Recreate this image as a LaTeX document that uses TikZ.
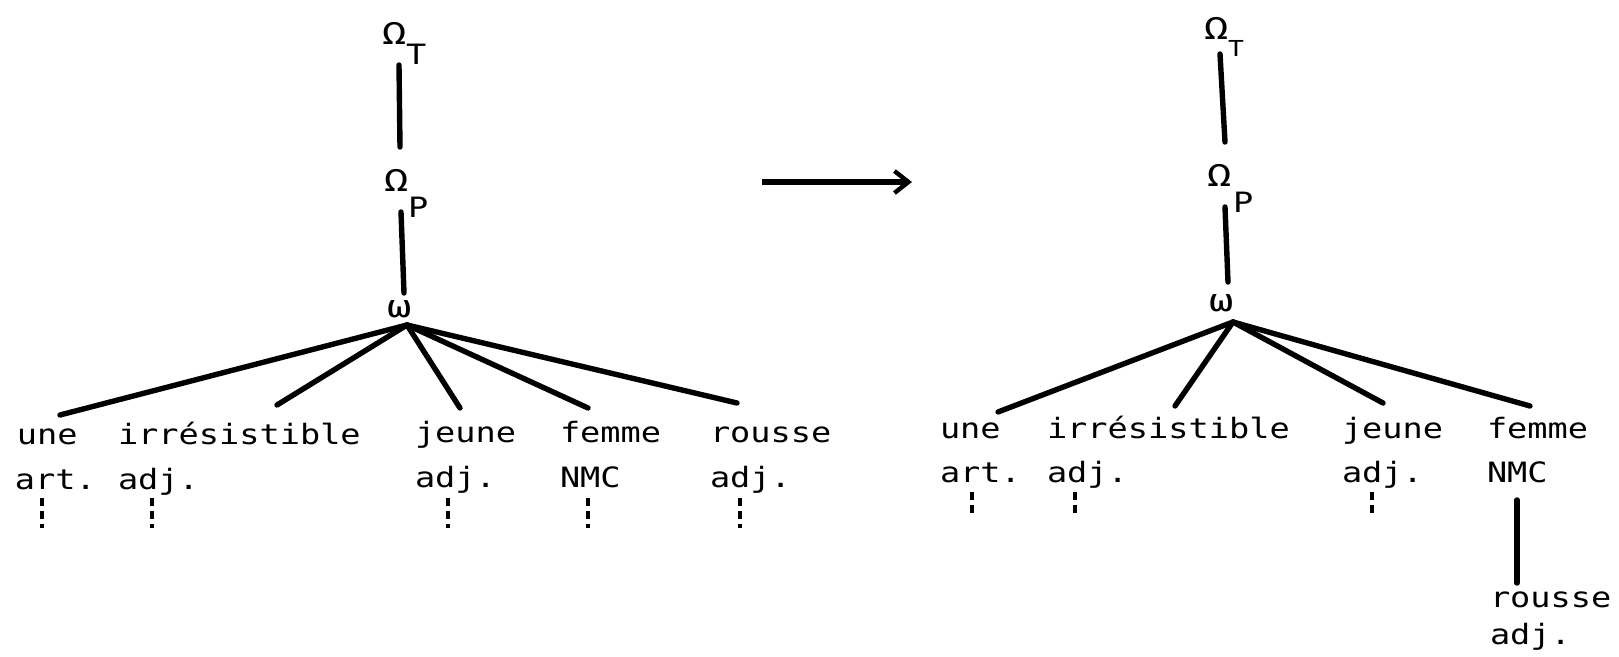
\documentclass[tikz,border=0pt]{standalone}
\usepackage{fontspec}
\newfontfamily\tw[FakeStretch=1.2]{DejaVu Sans Mono}
\newfontfamily\twg[FakeStretch=1.3]{DejaVu Sans Mono}
\usetikzlibrary{arrows.meta}
\begin{document}
\begin{tikzpicture}[x=0.5pt,y=-0.5pt,
  lbl/.style={anchor=base west, inner sep=0pt, outer sep=0pt, font=\tw\fontsize{14}{16}\selectfont},
  glbl/.style={lbl, font=\twg\fontsize{15.5}{17}\selectfont},
  sublbl/.style={lbl, font=\tw\fontsize{14}{16}\selectfont},
  smsub/.style={lbl, font=\tw\fontsize{11}{13}\selectfont},
  edge/.style={line width=2.7pt, line cap=round},
  stub/.style={line width=2pt, dash pattern=on 4pt off 2.5pt},
  arr/.style={line width=2.6pt, -{Straight Barb[length=7pt, width=11pt, line width=2.2pt]}}
]
\useasboundingbox (0,0) rectangle (1619,657);

% ---------- left tree ----------
\node[glbl] (LOT) at (382,45) {Ω};
\node[sublbl] (LOTs) at (406,65) {T};
\node[glbl] (LOP) at (384,192) {Ω};
\node[sublbl] (LOPs) at (408,218) {P};
\node[glbl] (Lom) at (387,318) {ω};

\coordinate (La1) at (399,65);
\coordinate (La2) at (400,147);
\coordinate (Lb1) at (401,212);
\coordinate (Lb2) at (404,293);
\coordinate (Lf) at (407,325);
\coordinate (Le1) at (60,415);
\coordinate (Le2) at (277,405);
\coordinate (Le3) at (460,408);
\coordinate (Le4) at (588,408);
\coordinate (Le5) at (737,403);

\draw[edge] (La1) -- (La2);
\draw[edge] (Lb1) -- (Lb2);
\foreach \e in {Le1,Le2,Le3,Le4,Le5} \draw[edge] (Lf) -- (\e);

\node[lbl] (Lw1) at (17,445) {une};
\node[lbl] (Lw2) at (118,445) {irrésistible};
\node[lbl] (Lw3) at (415,443) {jeune};
\node[lbl] (Lw4) at (560,443) {femme};
\node[lbl] (Lw5) at (710,443) {rousse};
\node[lbl] (Lc1) at (15,490) {art.};
\node[lbl] (Lc2) at (118,490) {adj.};
\node[lbl] (Lc3) at (415,488) {adj.};
\node[lbl] (Lc4) at (560,488) {NMC};
\node[lbl] (Lc5) at (710,488) {adj.};

\foreach \n/\x in {1/42,2/152,3/448,4/588,5/740}{
  \coordinate (Ls\n a) at (\x,498);
  \coordinate (Ls\n b) at (\x,528);
  \draw[stub] (Ls\n a) -- (Ls\n b);
}

% ---------- arrow ----------
\coordinate (A1) at (762,182);
\coordinate (A2) at (912,182);
\draw[arr] (A1) -- (A2);

% ---------- right tree ----------
\node[glbl] (ROT) at (1204,40) {Ω};
\node[smsub] (ROTs) at (1228,57) {T};
\node[glbl] (ROP) at (1207,187) {Ω};
\node[sublbl] (ROPs) at (1233,213) {P};
\node[glbl] (Rom) at (1209,312) {ω};

\coordinate (Ra1) at (1220,54);
\coordinate (Ra2) at (1225,142);
\coordinate (Rb1) at (1225,207);
\coordinate (Rb2) at (1228,282);
\coordinate (Rf) at (1233,322);
\coordinate (Re1) at (998,412);
\coordinate (Re2) at (1175,406);
\coordinate (Re3) at (1383,403);
\coordinate (Re4) at (1530,406);

\draw[edge] (Ra1) -- (Ra2);
\draw[edge] (Rb1) -- (Rb2);
\foreach \e in {Re1,Re2,Re3,Re4} \draw[edge] (Rf) -- (\e);

\node[lbl] (Rw1) at (940,439) {une};
\node[lbl] (Rw2) at (1047,439) {irrésistible};
\node[lbl] (Rw3) at (1342,439) {jeune};
\node[lbl] (Rw4) at (1487,439) {femme};
\node[lbl] (Rc1) at (940,483) {art.};
\node[lbl] (Rc2) at (1047,483) {adj.};
\node[lbl] (Rc3) at (1342,483) {adj.};
\node[lbl] (Rc4) at (1487,483) {NMC};

\foreach \n/\x in {1/972,2/1075,3/1372}{
  \coordinate (Rs\n a) at (\x,492);
  \coordinate (Rs\n b) at (\x,516);
  \draw[stub] (Rs\n a) -- (Rs\n b);
}

\coordinate (Rn1) at (1517,500);
\coordinate (Rn2) at (1517,583);
\draw[edge] (Rn1) -- (Rn2);
\node[lbl] (Rw5) at (1490,608) {rousse};
\node[lbl] (Rc5) at (1490,645) {adj.};
\end{tikzpicture}
\end{document}
